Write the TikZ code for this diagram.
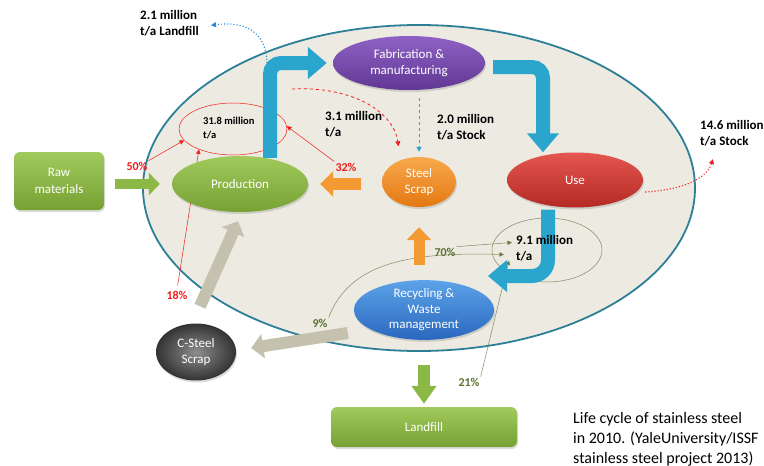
\documentclass[tikz,border=0pt]{standalone}
\usepackage{fontspec}
\setmainfont{Carlito}
\usetikzlibrary{shapes.geometric,arrows.meta,shadows}
\pgfdeclarelayer{back}
\pgfdeclarelayer{mid}
\pgfdeclarelayer{flows}
\pgfsetlayers{back,mid,flows,main}

\definecolor{bgfill}{HTML}{ECEAE1}
\definecolor{rim}{HTML}{2C7F96}
\definecolor{leaftop}{HTML}{A0CA5B}
\definecolor{leafbot}{HTML}{77A233}
\definecolor{leaf}{HTML}{8CB845}
\definecolor{plumtop}{HTML}{8E62C4}
\definecolor{plumbot}{HTML}{613795}
\definecolor{bricktop}{HTML}{E4564F}
\definecolor{brickbot}{HTML}{B52A25}
\definecolor{ambertop}{HTML}{F8A94C}
\definecolor{amberbot}{HTML}{E37812}
\definecolor{amber}{HTML}{F39A33}
\definecolor{skytop}{HTML}{5CA3E8}
\definecolor{skybot}{HTML}{2A67BE}
\definecolor{flow}{HTML}{2AA6CE}
\definecolor{stone}{HTML}{C4C2AF}
\definecolor{olive}{HTML}{5C7030}
\definecolor{oliveline}{HTML}{7E8C5C}
\definecolor{hot}{HTML}{F01E1E}

\tikzset{
  stage/.style={ellipse, inner sep=0pt, text=white, align=center,
    font=\fontsize{13}{16.5}\selectfont,
    drop shadow={opacity=0.28, shadow xshift=1pt, shadow yshift=-2pt}},
  panel/.style={rectangle, rounded corners=6pt, inner sep=0pt, text=white,
    align=center, font=\fontsize{13}{16.5}\selectfont,
    top color=leaftop, bottom color=leafbot,
    drop shadow={opacity=0.28, shadow xshift=1pt, shadow yshift=-2pt}},
  bluearrow/.style={draw=flow, line width=14pt, rounded corners=11pt,
    -{Triangle[length=19pt,width=31pt]}},
  fat/.style={line width=#1},
  figure/.style={font=\bfseries\fontsize{13}{15.5}\selectfont, align=left,
    anchor=north west, inner sep=0pt},
  redpct/.style={text=hot, font=\bfseries\fontsize{12}{14}\selectfont, inner sep=1pt},
  greenpct/.style={text=olive, font=\bfseries\fontsize{12}{14}\selectfont, inner sep=1pt},
  redthin/.style={draw=hot, line width=0.5pt, -{Triangle[length=4.5pt,width=4.5pt]}},
  greenthin/.style={draw=oliveline, line width=0.5pt,
    -{Triangle[length=4.5pt,width=4.5pt,fill=olive]}},
}

\begin{document}
\begin{tikzpicture}[x=1pt,y=-1pt]
\useasboundingbox (0,0) rectangle (764,466);

% the life-cycle boundary
\begin{pgfonlayer}{back}
  \draw[draw=rim, fill=bgfill, line width=1.8pt] (419,188) ellipse [x radius=276, y radius=163];
\end{pgfonlayer}

% stages
\node[panel, minimum width=90pt, minimum height=58pt] (raw) at (59,181) {Raw\\materials};
\node[stage, minimum width=136pt, minimum height=56pt, top color=leaftop, bottom color=leafbot] (prod) at (240,184) {Production};
\node[stage, minimum width=152pt, minimum height=54pt, top color=plumtop, bottom color=plumbot] (fab) at (409,63) {Fabrication \&\\manufacturing};
\node[stage, minimum width=74pt, minimum height=50pt, top color=ambertop, bottom color=amberbot] (scrap) at (419,182) {Steel\\Scrap};
\node[stage, minimum width=136pt, minimum height=55pt, top color=bricktop, bottom color=brickbot] (use) at (575,180) {Use};
\node[stage, minimum width=140pt, minimum height=54pt, top color=skytop, bottom color=skybot,
  font=\fontsize{13}{15.5}\selectfont] (recyc) at (424,310) {Recycling \&\\Waste\\management};
\node[stage, minimum width=80pt, minimum height=57pt, inner color=black!45, outer color=black!80] (cst) at (196,352) {C-Steel\\Scrap};
\node[panel, minimum width=186pt, minimum height=40pt] (landfill) at (424,427) {Landfill};

% flow figures
\node[figure] (lbl21) at (140,10.5) {2.1 million\\t/a Landfill};
\node[figure] (lbl31) at (325,111.5) {3.1 million\\t/a};
\node[figure] (lbl20) at (437,114.5) {2.0 million\\t/a Stock};
\node[figure] (lbl146) at (700,120.5) {14.6 million\\t/a Stock};
\node[figure, font=\bfseries\fontsize{10.5}{14}\selectfont] (t318) at (203,117) {31.8 million\\t/a};
\node[figure, font=\bfseries\fontsize{13}{16}\selectfont] (lbl91) at (516,235.5) {9.1 million\\t/a};

\node[redpct] (p50) at (137,166) {50\%};
\node[redpct] (p32) at (346,167) {32\%};
\node[redpct] (p18) at (177,295) {18\%};
\node[greenpct] (p70) at (445,252) {70\%};
\node[greenpct] (p9) at (320,323) {9\%};
\node[greenpct] (p21) at (469,382) {21\%};

% share circles and their feeders
\begin{pgfonlayer}{mid}
  \node[ellipse, draw=hot, line width=0.5pt, minimum width=108pt, minimum height=52pt] (r318) at (233,129) {};
  \node[ellipse, draw=oliveline, line width=0.5pt, minimum width=110pt, minimum height=64pt] (g91) at (547,250) {};
  \draw[redthin] (p50.north east) -- (r318.193);
  \draw[redthin] (p32.north west) -- (r318.3);
  \draw[redthin, shorten <=4pt] (p18.north) -- (r318.211);
  \draw[greenthin] (p70.north east) -- ([xshift=-4pt,yshift=-7pt]lbl91.north west);
  \draw[greenthin] (p9.north east) .. controls (350,262) and (410,252) .. ([xshift=-12pt,yshift=-19pt]lbl91.north west);
  \draw[greenthin] (p21.north east) -- ([xshift=-7pt,yshift=-25pt]lbl91.north west);
\end{pgfonlayer}

% main material flows
\begin{pgfonlayer}{flows}
\draw[bluearrow] ([xshift=30pt,yshift=-2pt]prod.north) |- ([xshift=-6pt]fab.west);
\draw[bluearrow] ([xshift=8pt,yshift=-4pt]fab.east) -| ([xshift=-32pt]use.north);
\coordinate (back) at (488,276);
\draw[bluearrow, rounded corners=16pt] ([xshift=-27pt,yshift=-2pt]use.south) |- (back);

\draw[fat=10pt, draw=leaf, -{Triangle[length=11pt,width=22pt]}, shorten <=11pt, shorten >=12pt]
  (raw.east |- prod.west) -- (prod.west);
\draw[fat=12pt, draw=amber, -{Triangle[length=13pt,width=25pt]}, shorten <=21pt, shorten >=12pt]
  (scrap.west |- prod.east) -- (prod.east);
\draw[fat=11pt, draw=amber, -{Triangle[length=13pt,width=24pt]}, shorten <=15pt, shorten >=20pt]
  (scrap.south |- recyc.north) -- (scrap.south);
\draw[fat=12pt, draw=stone, -{Triangle[length=12pt,width=24pt]}]
  ([xshift=4pt,yshift=17pt]cst.north) -- ([xshift=-2pt,yshift=-9pt]prod.south);
\draw[fat=12pt, draw=stone, -{Triangle[length=12pt,width=24pt]}]
  ([xshift=-6pt,yshift=-23pt]recyc.west) -- ([xshift=15pt,yshift=4pt]cst.east);
\draw[fat=12pt, draw=leaf, -{Triangle[length=18pt,width=24pt]}, shorten <=25pt, shorten >=3pt]
  (recyc.south) -- (landfill.north);
\end{pgfonlayer}

% stock and loss flows
\coordinate (offcut) at (292,89);
\draw[draw=hot, dashed, line width=0.8pt, -{Triangle[length=5pt,width=5pt]}, shorten >=14pt]
  (offcut) .. controls (350,86) and (393,110) .. (scrap.130);
\draw[draw=flow, dashed, line width=1pt, -{Triangle[length=5pt,width=5pt]}]
  ([yshift=-8pt]fab.south -| scrap.north) -- ([yshift=5pt]scrap.north);
\coordinate (loss) at (267,63);
\draw[draw=flow!80!blue, dotted, line width=1.1pt, -{Triangle[length=5pt,width=5pt]}]
  (loss) .. controls (266,30) and (243,21) .. ([xshift=12pt,yshift=-2pt]lbl21.east);
\draw[draw=hot, dotted, line width=1.1pt, -{Triangle[length=5pt,width=5pt]}]
  ([xshift=2pt,yshift=-12pt]use.east) .. controls (680,190) and (706,180) .. ([xshift=13pt,yshift=-13pt]lbl146.south west);

% caption
\node[anchor=north west, align=left, inner sep=0pt, font=\fontsize{16}{20}\selectfont] (caption)
  at (573,412) {Life cycle of stainless steel\\in 2010. (YaleUniversity/ISSF\\stainless steel project 2013)};
\end{tikzpicture}
\end{document}
